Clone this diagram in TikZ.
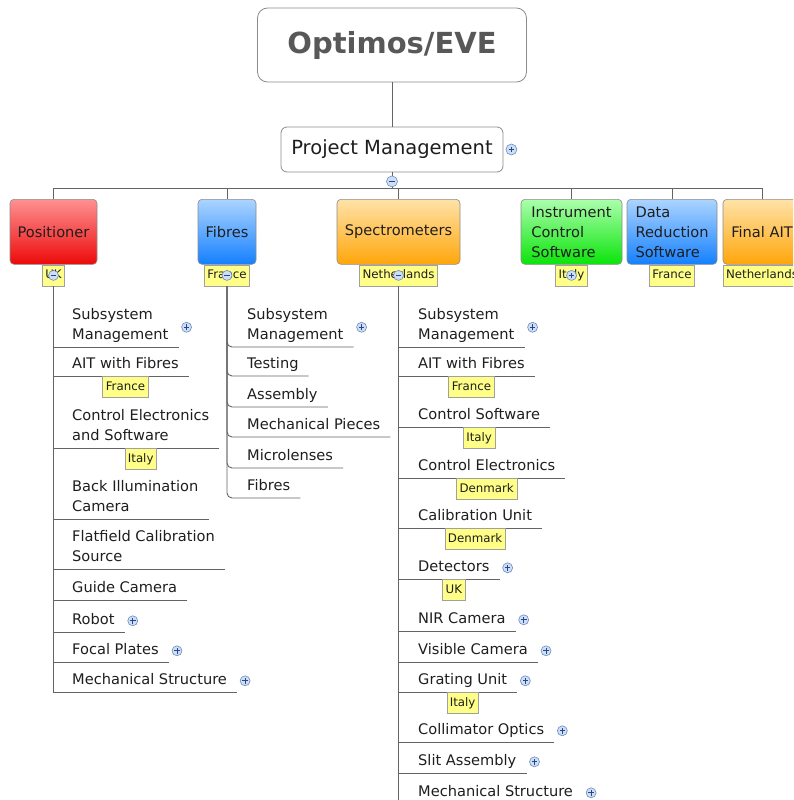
\documentclass[tikz,border=0pt]{standalone}
\usepackage{fontspec}
\setmainfont{DejaVu Sans}

\definecolor{ink}{RGB}{30, 30, 30}
\definecolor{titlegray}{RGB}{88, 88, 88}
\definecolor{boxedge}{RGB}{140, 140, 140}
\definecolor{linegray}{RGB}{100, 100, 100}
\definecolor{tagfill}{RGB}{255, 255, 135}
\definecolor{tagedge}{RGB}{160, 160, 160}
\definecolor{knobfill}{RGB}{205, 222, 245}
\definecolor{knobedge}{RGB}{110, 140, 190}
\definecolor{knobsign}{RGB}{40, 70, 140}
\definecolor{redtop}{RGB}{255, 145, 145}
\definecolor{redbot}{RGB}{236, 10, 10}
\definecolor{bluetop}{RGB}{172, 212, 255}
\definecolor{bluebot}{RGB}{20, 128, 255}
\definecolor{orangetop}{RGB}{255, 226, 168}
\definecolor{orangebot}{RGB}{255, 166, 10}
\definecolor{greentop}{RGB}{172, 255, 172}
\definecolor{greenbot}{RGB}{10, 228, 10}

\newcommand{\rootfont}{\fontsize{29}{34}\selectfont\bfseries}
\newcommand{\pmfont}{\fontsize{19.5}{24}\selectfont}
\newcommand{\itemfont}{\fontsize{14.6}{20}\selectfont}
\newcommand{\tagfont}{\fontsize{11.8}{14}\selectfont}

\usetikzlibrary{calc}

\tikzset{
  rootbox/.style={draw=boxedge, line width=0.8pt, rounded corners=10pt, fill=white, font=\rootfont, text=titlegray},
  pmbox/.style={draw=boxedge, line width=0.8pt, rounded corners=6pt, fill=white, font=\pmfont, text=ink},
  branch/.style={draw=boxedge, line width=0.6pt, rounded corners=4pt, anchor=north, minimum height=65pt,
    inner xsep=6pt, align=left, font=\itemfont, text=ink},
  item/.style={anchor=south west, inner xsep=10pt, inner ysep=1pt, align=left, font=\itemfont, text=ink,
    execute at begin node=\strut, execute at end node=\strut},
  tag/.style={anchor=north, draw=tagedge, line width=0.6pt, fill=tagfill, font=\tagfont, text=ink,
    inner xsep=3pt, inner ysep=0pt, text height=9pt, text depth=2.5pt, minimum height=21pt},
  stem/.style={draw=linegray, line width=0.9pt},
  knob/.style={circle, draw=knobedge, line width=0.6pt, fill=knobfill, minimum size=10pt, inner sep=0pt},
  collapse/.style={knob, path picture={
    \draw[knobsign, line width=1pt] ([xshift=-2.8pt]path picture bounding box.center) -- ([xshift=2.8pt]path picture bounding box.center);}},
  expand/.style={knob, path picture={
    \draw[knobsign, line width=1pt] ([xshift=-2.8pt]path picture bounding box.center) -- ([xshift=2.8pt]path picture bounding box.center)
      ([yshift=-2.8pt]path picture bounding box.center) -- ([yshift=2.8pt]path picture bounding box.center);}}
}

\begin{document}
\begin{tikzpicture}[x=1pt, y=-1pt]
  \useasboundingbox (0,0) rectangle (793,800);
  \clip (0,0) rectangle (793,800);

  % Root and project management
  \node[rootbox, minimum width=269pt, minimum height=74pt] (root) at (392,45) {Optimos/EVE};
  \node[pmbox, minimum width=222pt, minimum height=45pt] (pm) at (392,149.5) {Project Management};
  \coordinate (bus) at (392,188);
  \draw[stem] (root.south) -- (pm.north);
  \draw[stem] (pm.south) -- (bus);

  % Work packages
  \node[branch, minimum width=87pt, top color=redtop, bottom color=redbot] (pos) at (53.5,199) {Positioner};
  \node[branch, minimum width=58pt, top color=bluetop, bottom color=bluebot] (fib) at (227,199) {Fibres};
  \node[branch, minimum width=123pt, top color=orangetop, bottom color=orangebot] (spec) at (398.5,199) {Spectrometers};
  \node[branch, minimum width=101pt, top color=greentop, bottom color=greenbot] (ics) at (571.5,199) {Instrument\\Control\\Software};
  \node[branch, minimum width=90pt, top color=bluetop, bottom color=bluebot] (drs) at (672,199) {Data\\Reduction\\Software};
  \node[branch, minimum width=78pt, top color=orangetop, bottom color=orangebot] (fait) at (762,199) {Final AIT};

  \foreach \wp in {pos, fib, spec, ics, drs, fait}
    \draw[stem] (bus) -| (\wp.north);

  \node[tag] (pos-tag) at (pos.south) {UK};
  \node[tag] (fib-tag) at (fib.south) {France};
  \node[tag] (spec-tag) at (spec.south) {Netherlands};
  \node[tag] (ics-tag) at (ics.south) {Italy};
  \node[tag] (drs-tag) at (drs.south) {France};
  \node[tag] (fait-tag) at (fait.south) {Netherlands};

  % Positioner items
  \node[item] (pos-1) at (62,347) {Subsystem\\Management};
  \node[item] (pos-2) at (62,376) {AIT with Fibres};
  \node[item] (pos-3) at (62,448) {Control Electronics\\and Software};
  \node[item] (pos-4) at (62,519) {Back Illumination\\Camera};
  \node[item] (pos-5) at (62,569) {Flatfield Calibration\\Source};
  \node[item] (pos-6) at (62,600) {Guide Camera};
  \node[item] (pos-7) at (62,632) {Robot};
  \node[item] (pos-8) at (62,662) {Focal Plates};
  \node[item] (pos-9) at (62,692) {Mechanical Structure};
  \foreach \i in {1,...,9}
    \draw[stem] (pos-tag.south) |- (pos-\i.south east);
  \node[tag] (pos-2-tag) at (pos-2.south) {France};
  \node[tag] (pos-3-tag) at (pos-3.south) {Italy};

  % Fibres items
  \node[item] (fib-1) at (237,347) {Subsystem\\Management};
  \node[item] (fib-2) at (237,376) {Testing};
  \node[item] (fib-3) at (237,407) {Assembly};
  \node[item] (fib-4) at (237,437) {Mechanical Pieces};
  \node[item] (fib-5) at (237,468) {Microlenses};
  \node[item] (fib-6) at (237,498) {Fibres};
  \foreach \i in {1,...,6}
    \draw[stem, rounded corners=5pt] (fib-tag.south) |- (fib-\i.south east);

  % Spectrometer items
  \node[item] (spec-1) at (408,347) {Subsystem\\Management};
  \node[item] (spec-2) at (408,376) {AIT with Fibres};
  \node[item] (spec-3) at (408,427) {Control Software};
  \node[item] (spec-4) at (408,478) {Control Electronics};
  \node[item] (spec-5) at (408,528) {Calibration Unit};
  \node[item] (spec-6) at (408,579) {Detectors};
  \node[item] (spec-7) at (408,631) {NIR Camera};
  \node[item] (spec-8) at (408,662) {Visible Camera};
  \node[item] (spec-9) at (408,692) {Grating Unit};
  \node[item] (spec-10) at (408,742) {Collimator Optics};
  \node[item] (spec-11) at (408,773) {Slit Assembly};
  \node[item] (spec-12) at (408,804) {Mechanical Structure};
  \foreach \i in {1,...,12}
    \draw[stem] (spec-tag.south) |- (spec-\i.south east);
  \node[tag] (spec-2-tag) at (spec-2.south) {France};
  \node[tag] (spec-3-tag) at (spec-3.south) {Italy};
  \node[tag] (spec-4-tag) at (spec-4.south) {Denmark};
  \node[tag] (spec-5-tag) at (spec-5.south) {Denmark};
  \node[tag] (spec-6-tag) at (spec-6.south) {UK};
  \node[tag] (spec-9-tag) at (spec-9.south) {Italy};

  % Expand / collapse buttons
  \node[expand, minimum size=11pt] (pm-x) at ([xshift=8pt]pm.east) {};
  \node[collapse, minimum size=11pt] (pm-c) at ([yshift=-9pt]pm.south) {};
  \node[collapse] (pos-c) at (pos-tag.center) {};
  \node[collapse] (fib-c) at (fib-tag.center) {};
  \node[collapse] (spec-c) at (spec-tag.center) {};
  \node[expand] (ics-x) at (ics-tag.center) {};
  \foreach \k in {pos-1, pos-7, pos-8, pos-9, fib-1, spec-1, spec-6, spec-7, spec-8, spec-9, spec-10, spec-11, spec-12}
    \node[expand] (\k-x) at ([xshift=8pt]\k.east) {};
\end{tikzpicture}
\end{document}
